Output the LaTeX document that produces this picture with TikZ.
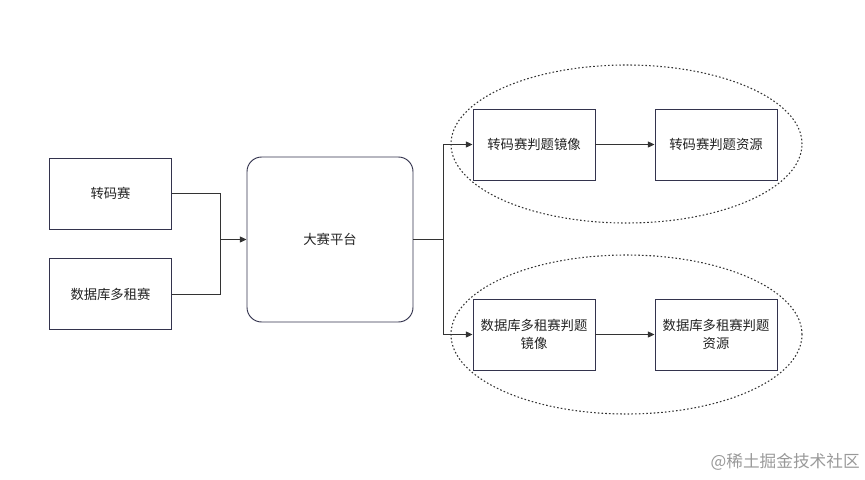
\documentclass[tikz,border=0pt]{standalone}
\usepackage{fontspec}
\setmainfont{Noto Sans CJK SC}
\usetikzlibrary{arrows.meta,shapes.geometric}
\definecolor{boxline}{HTML}{33334D}
\definecolor{txt}{HTML}{222222}
\begin{document}
\begin{tikzpicture}[x=0.75pt,y=-0.75pt,
  box/.style={draw=boxline,line width=0.7pt,minimum width=122*0.75pt,minimum height=71*0.75pt,inner sep=0pt,align=center,font=\fontsize{10}{14}\selectfont,text=txt},
  conn/.style={draw=black!80,line width=0.75pt},
  arr/.style={conn,-{Triangle[length=5pt,width=4.5pt]}},
  group/.style={draw=black!80,line width=0.8pt,dash pattern=on 1.2pt off 1.6pt,ellipse,inner sep=0pt}]
\useasboundingbox (0,0) rectangle (865,479);
\node[box] (a) at (110.5,193.5) {转码赛};
\node[box] (b) at (110.5,294) {数据库多租赛};
\node[box,rounded corners=11pt,minimum width=166*0.75pt,minimum height=165*0.75pt] (p) at (330,239.5) {大赛平台};
\node[box] (c) at (534,144.5) {转码赛判题镜像};
\node[box] (d) at (716,144.5) {转码赛判题资源};
\node[box] (e) at (534,334.5) {数据库多租赛判题\\镜像};
\node[box] (f) at (716,334.5) {数据库多租赛判题\\资源};
\node[group,minimum width=351*0.75pt,minimum height=158*0.75pt] (g1) at (626.5,144) {};
\node[group,minimum width=351*0.75pt,minimum height=159*0.75pt] (g2) at (626.5,334.5) {};
\coordinate (m) at (220,239.5);
\coordinate (s) at (443,239.5);
\draw[conn] (a.east) -| (m);
\draw[conn] (b.east) -| (m);
\draw[arr] (m) -- (p.west);
\draw[conn] (p.east) -- (s);
\draw[arr] (s) |- (c.west);
\draw[arr] (s) |- (e.west);
\draw[arr] (c) -- (d);
\draw[arr] (e) -- (f);
\node[anchor=east,text=black!40,font=\fontsize{12.5}{14}\selectfont,inner sep=0pt] (w) at (860,462) {@稀土掘金技术社区};
\end{tikzpicture}
\end{document}
